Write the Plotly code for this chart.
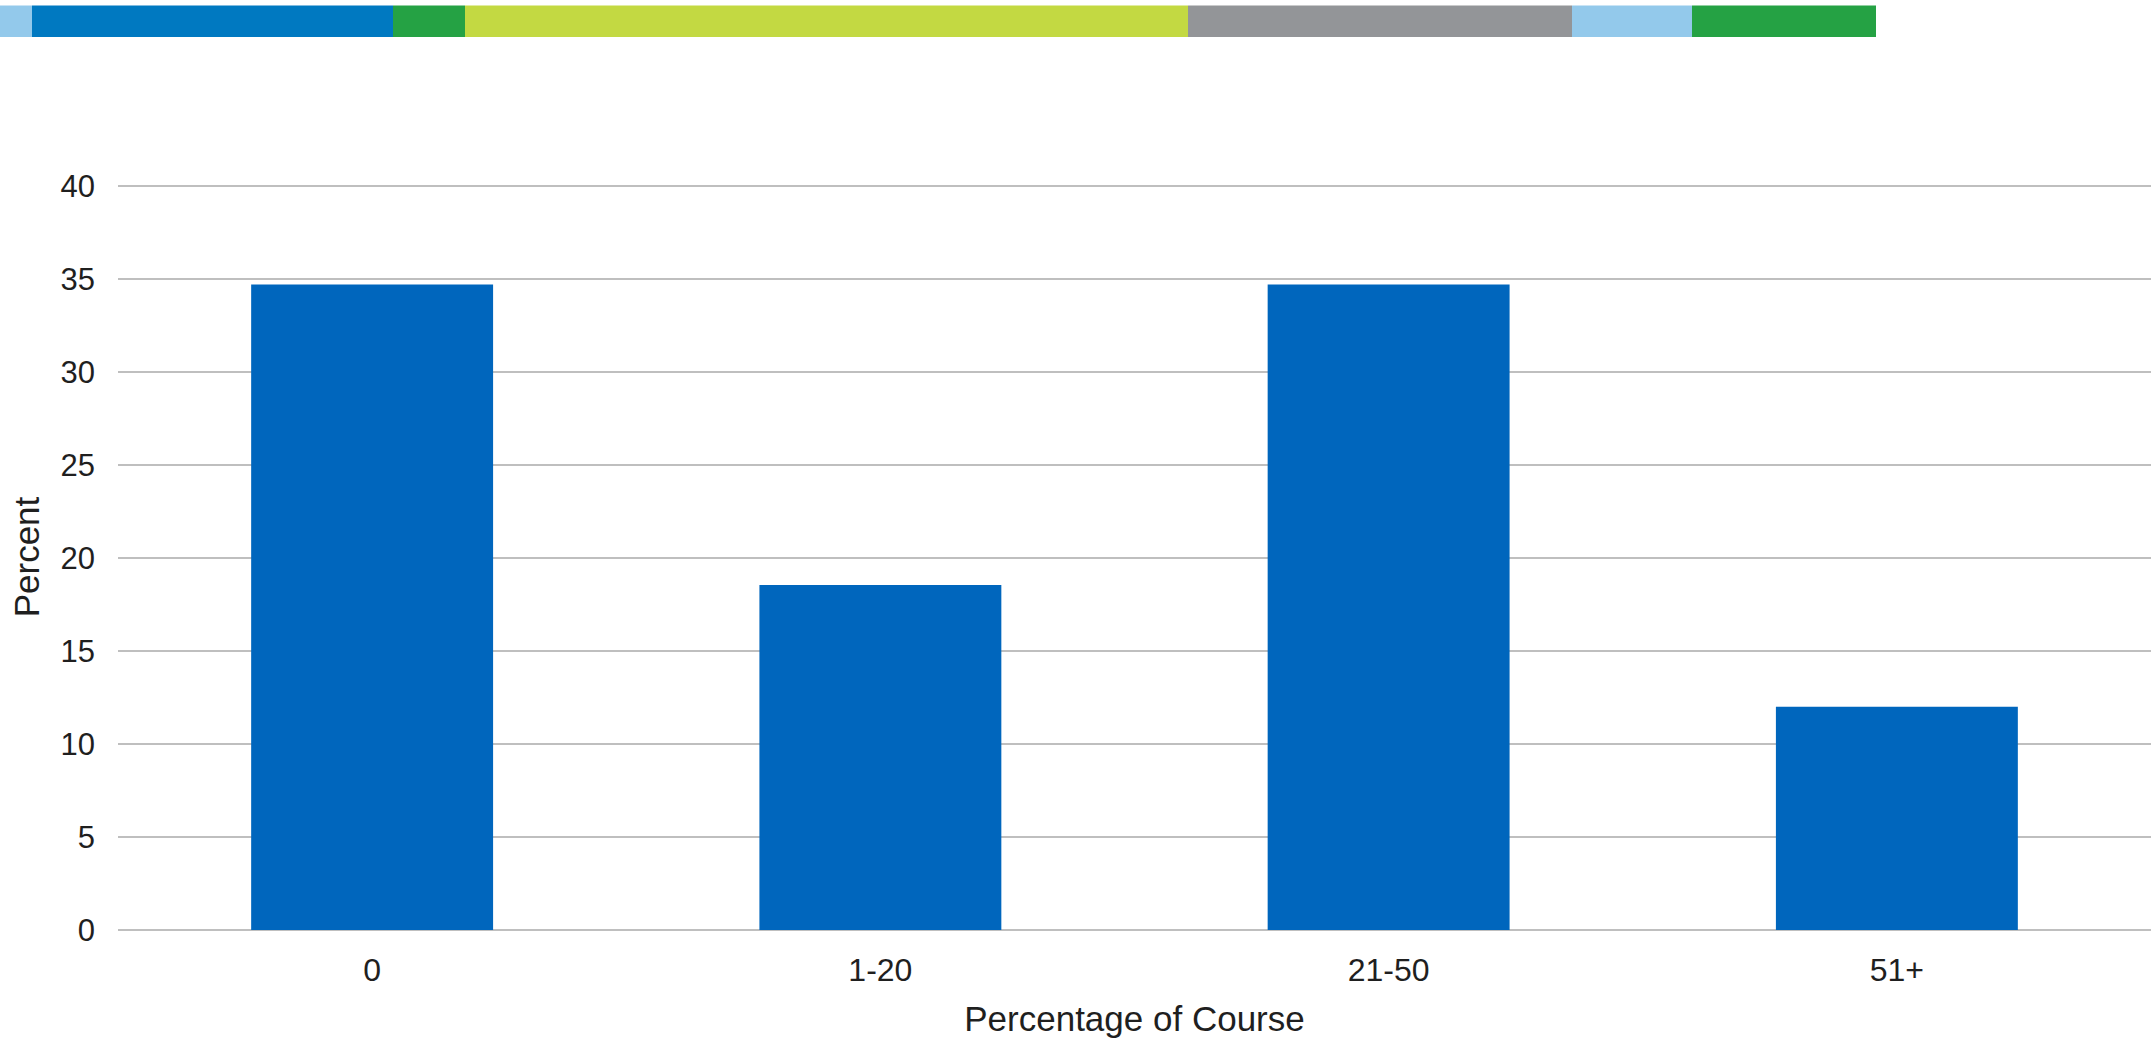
import plotly.graph_objects as go

categories = ["0", "1-20", "21-50", "51+"]
percent = [34.7, 18.55, 34.7, 12.0]
y_ticks = [0, 5, 10, 15, 20, 25, 30, 35, 40]

# decorative top stripe: (start px, end px, colour)
stripe_colors = ["#93C9EB", "#0079C1", "#25A244", "#C3D942", "#939598", "#93C9EB", "#25A244"]
stripe_edges = [0, 32, 393, 465, 1188, 1572, 1692, 1876]

W, H = 2153, 1038
ML, MR, MT, MB = 118, 2, 184, 108
plot_w = W - ML - MR
plot_h = H - MT - MB

fig = go.Figure()
fig.add_trace(go.Bar(x=categories, y=percent, marker=dict(color="#0066BD", line=dict(width=0)),
                     hoverinfo="x+y"))

shapes = []
for i, c in enumerate(stripe_colors):
    x0 = (stripe_edges[i] - ML) / plot_w
    x1 = (stripe_edges[i + 1] - ML) / plot_w
    shapes.append(dict(type="rect", xref="paper", yref="paper",
                       x0=x0, x1=x1,
                       y0=1 + (MT - 37) / plot_h, y1=1 + (MT - 5.5) / plot_h,
                       fillcolor=c, line=dict(width=0), layer="above"))

fig.update_layout(
    width=W, height=H,
    margin=dict(l=ML, r=MR, t=MT, b=MB, autoexpand=False),
    paper_bgcolor="white", plot_bgcolor="white",
    bargap=0.524,
    showlegend=False,
    font=dict(family="Liberation Sans, Arial, sans-serif", color="#1F1F1F"),
    shapes=shapes,
    xaxis=dict(
        title=dict(text="Percentage of Course", font=dict(size=35, color="#1F1F1F"), standoff=28),
        tickfont=dict(size=32, color="#1F1F1F"),
        showgrid=False, showline=False, zeroline=False,
        ticks="", ticklabelstandoff=18, automargin=False,
    ),
    yaxis=dict(
        title=dict(text="Percent", font=dict(size=35, color="#1F1F1F"), standoff=10),
        tickfont=dict(size=31, color="#1F1F1F"),
        range=[0, 40.1], tickvals=y_ticks, ticktext=[str(v) for v in y_ticks],
        showgrid=True, gridcolor="#BFBFBF", gridwidth=1.6,
        zeroline=True, zerolinecolor="#BFBFBF", zerolinewidth=1.6,
        showline=False, ticks="", ticklabelstandoff=22, automargin=False,
    ),
)

fig.write_html("out.html", config={"displayModeBar": False},
               post_script="document.body.style.margin='0';document.body.style.overflow='hidden';")
